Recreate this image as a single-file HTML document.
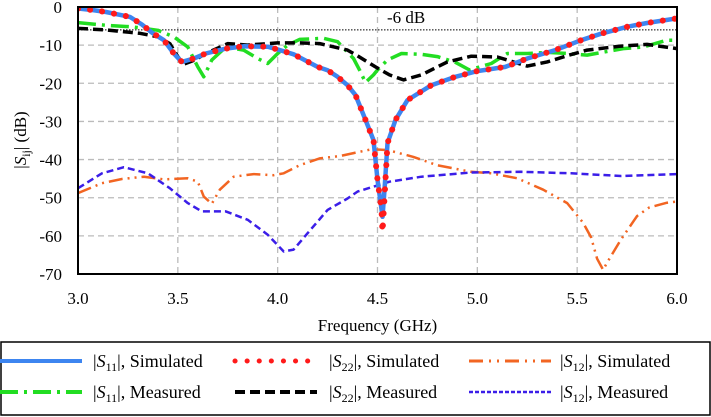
<!DOCTYPE html>
<html><head><meta charset="utf-8"><style>
body{margin:0;background:#fff;width:711px;height:417px;overflow:hidden}
svg{display:block}
svg text{font-family:"Liberation Serif","Times New Roman",serif}
</style></head><body>
<svg id="c" width="711" height="417" font-family="Liberation Serif, serif"></svg>
<script>
const xTicks=[3.0,3.5,4.0,4.5,5.0,5.5,6.0];
const yTicks=[0,-10,-20,-30,-40,-50,-60,-70];
const s11SimF=[3.0,3.075,3.14,3.26,3.32,3.37,3.43,3.48,3.52,3.58,3.64,3.74,3.83,3.95,4.01,4.08,4.2,4.25,4.3,4.35,4.39,4.44,4.48,4.5,4.52,4.525,4.535,4.55,4.59,4.65,4.77,4.89,5.0,5.14,5.25,5.39,5.52,5.62,5.75,5.85,6.0];
const s11SimV=[-0.4,-0.8,-1.3,-2.6,-4.6,-6.7,-8.7,-12.2,-14.4,-13.5,-12.2,-10.9,-10.3,-10.4,-11.3,-12.4,-15.7,-16.6,-18.3,-20.5,-23.1,-29.6,-34.9,-45.3,-53,-55,-48,-35.7,-29.6,-24.4,-20.5,-18.3,-16.8,-15.7,-13.5,-11.3,-8.7,-7.0,-5.2,-4.2,-3.0];
const s22SimV=[-0.4,-0.8,-1.3,-2.6,-4.6,-6.7,-8.7,-12.2,-14.4,-13.5,-12.2,-10.9,-10.3,-10.4,-11.3,-12.4,-15.7,-16.6,-18.3,-20.5,-23.1,-29.6,-34.9,-45.3,-53,-59,-50,-35.7,-29.6,-24.4,-20.5,-18.3,-16.8,-15.7,-13.5,-11.3,-8.7,-7.0,-5.2,-4.2,-3.0];
const s22MeasF=[3.0,3.14,3.31,3.4,3.46,3.5,3.53,3.58,3.64,3.75,3.85,3.95,4.0,4.11,4.21,4.35,4.4,4.49,4.56,4.63,4.72,4.85,4.97,5.1,5.18,5.25,5.35,5.46,5.55,5.71,5.85,6.0];
const s22MeasV=[-5.6,-6.0,-6.9,-7.8,-9.6,-13,-15,-14,-12.2,-9.6,-10,-9.6,-9.4,-9.4,-9.6,-11.3,-12.8,-15.7,-17.8,-19.1,-17.8,-14.4,-12.9,-13.1,-14.4,-15.5,-14.4,-12.6,-11.3,-10.3,-9.8,-10.9];
const s11MeasF=[3.0,3.14,3.27,3.4,3.48,3.55,3.6,3.63,3.67,3.74,3.83,3.9,3.95,4.0,4.05,4.11,4.23,4.3,4.38,4.41,4.44,4.48,4.5,4.55,4.62,4.72,4.8,4.89,4.96,5.07,5.15,5.25,5.35,5.45,5.55,5.73,5.83,5.95,6.0];
const s11MeasV=[-4.1,-4.8,-5.2,-6.1,-7.8,-10.5,-15.7,-18.3,-13.9,-10.5,-11.3,-13.5,-14.8,-12.2,-10,-8.5,-8.2,-9.1,-13.5,-16.5,-19.8,-17.8,-16.5,-13.9,-12.2,-12.4,-13,-14.5,-16.5,-14.8,-12.2,-12.2,-11.9,-12.2,-12.6,-10.9,-10.5,-8.7,-8.7];
const s12MeasF=[3.0,3.12,3.23,3.35,3.46,3.55,3.62,3.74,3.85,3.95,4.03,4.08,4.15,4.25,4.35,4.4,4.56,4.72,4.97,5.22,5.47,5.72,6.0];
const s12MeasV=[-47.5,-43.6,-42.0,-43.6,-47.5,-51.4,-53.6,-53.6,-55.8,-59.7,-64.1,-63.6,-59.3,-53.2,-50.2,-48.4,-45.8,-44.5,-43.4,-43.2,-43.6,-44.3,-43.8];
const s12SimF=[3.0,3.12,3.22,3.33,3.43,3.55,3.6,3.63,3.67,3.71,3.78,3.88,3.98,4.03,4.11,4.21,4.31,4.38,4.47,4.55,4.68,4.8,4.97,5.07,5.2,5.33,5.45,5.53,5.57,5.6,5.63,5.65,5.72,5.8,5.86,5.95,6.0];
const s12SimV=[-48.8,-46.2,-45.1,-44.5,-45.2,-44.9,-45.8,-49.7,-51.6,-47.9,-44.5,-43.8,-44.1,-43.6,-41.5,-39.7,-39.1,-38.3,-37.3,-37.5,-39.3,-41.5,-43.2,-43.6,-44.9,-47.9,-51.4,-56.6,-60.4,-66,-68.9,-67,-60.9,-54.8,-52.6,-51.3,-51];
const refLevel=-6;

const NS='http://www.w3.org/2000/svg';
const svg=document.getElementById('c');
const X0=78,X1=677,Y0=7,Y1=274;
const xs=f=>X0+(f-3)/(6-3)*(X1-X0);
const ys=v=>Y0+(0-v)/70*(Y1-Y0);
function mk(t,a,p){const e=document.createElementNS(NS,t);for(const k in a)e.setAttribute(k,a[k]);(p||svg).appendChild(e);return e;}
function txt(x,y,s,a){const e=mk('text',Object.assign({x:x,y:y,'font-size':17,fill:'#000','font-family':'Liberation Serif, serif'},a||{}));e.textContent=s;return e;}

xTicks.forEach((f,i)=>{if(i>0&&i<xTicks.length-1){const g=mk('line',{x1:xs(f),x2:xs(f),y1:Y0,y2:Y1,stroke:'#bbb','stroke-width':1.3,'stroke-dasharray':'6,4'});

}
const t=txt(xs(f),304,f.toFixed(1),{'text-anchor':'middle'});

});
yTicks.forEach((v,i)=>{if(i>0&&i<yTicks.length-1){const g=mk('line',{x1:X0,x2:X1,y1:ys(v),y2:ys(v),stroke:'#bbb','stroke-width':1.3,'stroke-dasharray':'6,4'});

}
const t=txt(62,ys(v)+6,String(v),{'text-anchor':'end'});

});

const rl=mk('line',{x1:X0,x2:X1,y1:ys(refLevel),y2:ys(refLevel),stroke:'#000','stroke-width':1,'stroke-dasharray':'1.5,1.5'});


const rt=txt(387,23,'-6 dB');



const clip=mk('clipPath',{id:'cp'});mk('rect',{x:X0,y:Y0,width:X1-X0,height:Y1-Y0},clip);
function series(F,V,style,name){const d=F.map((f,i)=>(i?'L':'M')+xs(f).toFixed(1)+','+ys(V[i]).toFixed(1)).join('');
const p=mk('path',Object.assign({d:d,fill:'none','stroke-linejoin':'round','clip-path':'url(#cp)'},style));

}
series(s12SimF,s12SimV,{stroke:'#f26522','stroke-width':2.5,'stroke-dasharray':'14,5,2,5,2,5'},'s12-simulated-line');
series(s12MeasF,s12MeasV,{stroke:'#3b1ee8','stroke-width':2.5,'stroke-dasharray':'7,4'},'s12-measured-line');
series(s11MeasF,s11MeasV,{stroke:'#22dd22','stroke-width':3.5,'stroke-dasharray':'18,6,3,6'},'s11-measured-line');
series(s22MeasF,s22MeasV,{stroke:'#000','stroke-width':3.5,'stroke-dasharray':'10,5'},'s22-measured-line');
series(s11SimF,s11SimV,{stroke:'#3d85f0','stroke-width':4.5},'s11-simulated-line');
series(s11SimF,s22SimV,{stroke:'#ff1a1a','stroke-width':6,'stroke-linecap':'round','stroke-dasharray':'0.1,12'},'s22-simulated-line');

const fr=mk('rect',{x:X0,y:Y0,width:X1-X0,height:Y1-Y0,fill:'none',stroke:'#000','stroke-width':2});



const xt=txt((X0+X1)/2,331,'Frequency (GHz)',{'text-anchor':'middle'});


const yt=mk('text',{x:0,y:0,'font-size':17,'font-family':'Liberation Serif, serif',transform:'translate(26,140) rotate(-90)','text-anchor':'middle'});
yt.innerHTML='|<tspan font-style="italic">S</tspan><tspan font-size="12" dy="4">ij</tspan><tspan dy="-4">| (dB)</tspan>';



const lg=mk('g',{});


mk('rect',{x:1,y:342,width:709,height:73,fill:'#fff',stroke:'#000','stroke-width':1.5},lg);
const leg=[
 [0,82,93,361,'11','Simulated',{stroke:'#3d85f0','stroke-width':4}],
 [235,317,329,361,'22','Simulated',{stroke:'#ff1a1a','stroke-width':5,'stroke-linecap':'round','stroke-dasharray':'0.1,12'}],
 [469,551,560,361,'12','Simulated',{stroke:'#f26522','stroke-width':3,'stroke-dasharray':'14,6,2,6,2,6'}],
 [0,82,93,392,'11','Measured',{stroke:'#22dd22','stroke-width':4,'stroke-dasharray':'18,6,3,6'}],
 [235,317,329,392,'22','Measured',{stroke:'#000','stroke-width':4,'stroke-dasharray':'10,5'}],
 [469,551,560,392,'12','Measured',{stroke:'#3b1ee8','stroke-width':2.5,'stroke-dasharray':'4,2'}]];
leg.forEach(e=>{const g=mk('g',{},lg);


mk('line',Object.assign({x1:e[0],x2:e[1],y1:e[3],y2:e[3]},e[6]),g);
const t=mk('text',{x:e[2],y:e[3]+6,'font-size':18,'font-family':'Liberation Serif, serif'},g);
t.innerHTML='|<tspan font-style="italic">S</tspan><tspan font-size="12" dy="4">'+e[4]+'</tspan><tspan dy="-4">|, '+e[5]+'</tspan>';});
</script>
</body></html>
